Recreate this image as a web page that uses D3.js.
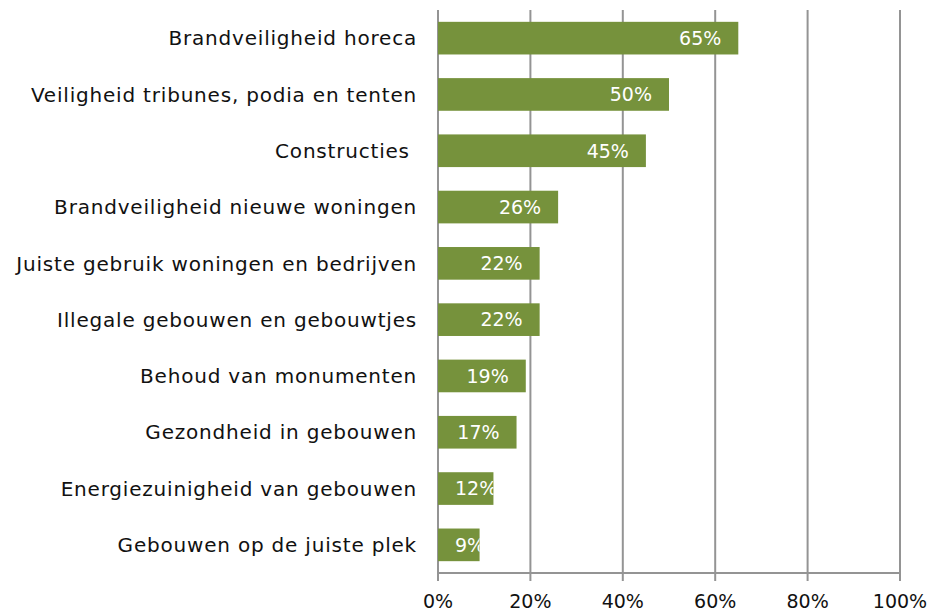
<!DOCTYPE html>
<meta charset="utf-8">
<script src="https://d3js.org/d3.v7.min.js"></script>
<style>
  body { margin: 0; background: #fff; }
  text { font-family: "DejaVu Sans", Verdana, sans-serif; }
</style>
<div id="my_dataviz"></div>
<script>
// data
var categories = [
  "Brandveiligheid horeca",
  "Veiligheid tribunes, podia en tenten",
  "Constructies ",
  "Brandveiligheid nieuwe woningen",
  "Juiste gebruik woningen en bedrijven",
  "Illegale gebouwen en gebouwtjes",
  "Behoud van monumenten",
  "Gezondheid in gebouwen",
  "Energiezuinigheid van gebouwen",
  "Gebouwen op de juiste plek"
];
var values = [65, 50, 45, 26, 22, 22, 19, 17, 12, 9];
var xTicks = [0, 20, 40, 60, 80, 100];

var margin = {top: 10, right: 33, bottom: 40, left: 438},
    width = 933 - margin.left - margin.right,
    height = 613 - margin.top - margin.bottom;

var svg = d3.select("#my_dataviz")
  .append("svg")
    .attr("width", 933)
    .attr("height", 613)
  .append("g")
    .attr("transform", "translate(" + margin.left + "," + margin.top + ")");

var x = d3.scaleLinear().domain([0, 100]).range([0, width]);
var y = d3.scaleBand()
  .domain(categories)
  .range([0, height])
  .paddingInner(0.42)
  .paddingOuter(0.21);

var gridColor = "#949494";

// vertical gridlines (incl. ticks below the axis)
svg.append("g")
  .selectAll("line")
  .data(xTicks)
  .enter().append("line")
    .attr("x1", d => x(d))
    .attr("x2", d => x(d))
    .attr("y1", 0)
    .attr("y2", height + 8)
    .attr("stroke", gridColor)
    .attr("stroke-width", 2);

// bars
var data = categories.map((c, i) => ({cat: c, val: values[i]}));

var defs = svg.append("defs");
defs.selectAll("clipPath")
  .data(data)
  .enter().append("clipPath")
    .attr("id", (d, i) => "clip" + i)
  .append("rect")
    .attr("x", 0)
    .attr("y", d => y(d.cat))
    .attr("width", d => x(d.val))
    .attr("height", y.bandwidth());

svg.selectAll(".bar")
  .data(data)
  .enter().append("rect")
    .attr("class", "bar")
    .attr("x", 0)
    .attr("y", d => y(d.cat))
    .attr("width", d => x(d.val))
    .attr("height", y.bandwidth())
    .attr("fill", "#76923c");

// value labels inside the bar end, clipped to the bar
var pad = 17;
svg.selectAll(".lbl")
  .data(data)
  .enter().append("text")
    .attr("class", "lbl")
    .attr("clip-path", (d, i) => "url(#clip" + i + ")")
    .attr("y", d => y(d.cat) + y.bandwidth() / 2)
    .attr("dy", "0.36em")
    .attr("fill", "#fff")
    .style("font-size", "19px")
    .text(d => d.val + "%")
    .attr("x", function(d) {
      var w = this.getComputedTextLength();
      return Math.max(pad, x(d.val) - pad - w);
    });

// category labels (keep trailing space, like the original)
svg.selectAll(".cat")
  .data(data)
  .enter().append("text")
    .attr("class", "cat")
    .attr("x", -21)
    .attr("y", d => y(d.cat) + y.bandwidth() / 2)
    .attr("dy", "0.36em")
    .attr("text-anchor", "end")
    .attr("fill", "#111")
    .style("font-size", "20px")
    .style("letter-spacing", "0.8px")
    .style("white-space", "pre")
    .text(d => d.cat);

// x axis line
svg.append("line")
  .attr("x1", 0).attr("x2", width)
  .attr("y1", height).attr("y2", height)
  .attr("stroke", gridColor)
  .attr("stroke-width", 2);

// tick labels
svg.selectAll(".tick-lbl")
  .data(xTicks)
  .enter().append("text")
    .attr("class", "tick-lbl")
    .attr("x", d => x(d))
    .attr("y", height + 35)
    .attr("text-anchor", "middle")
    .attr("fill", "#111")
    .style("font-size", "19px")
    .text(d => d + "%");
</script>
